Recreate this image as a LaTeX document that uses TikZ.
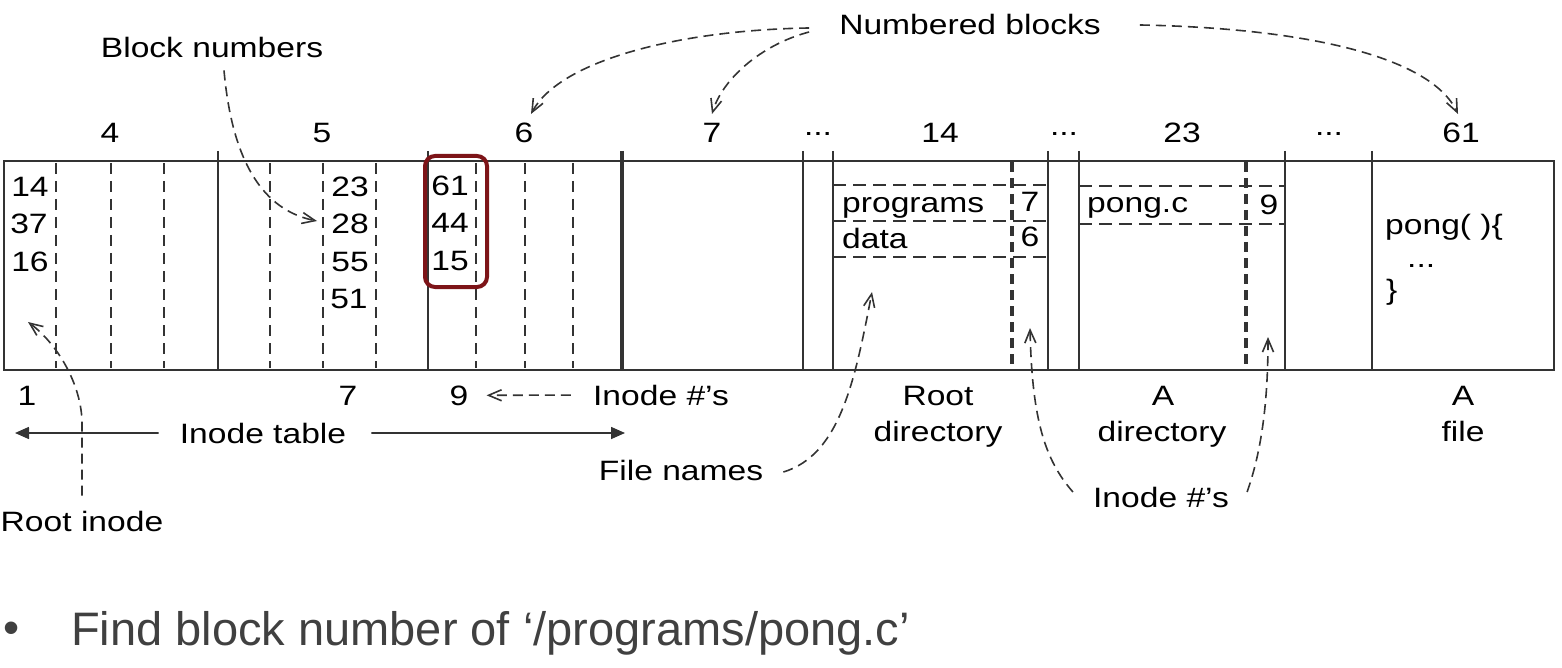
\documentclass[tikz,border=0pt]{standalone}
\usepackage{fontspec}
\setmainfont{Liberation Sans}
\newfontfamily\diag[FakeStretch=1.2]{Liberation Sans}
\usetikzlibrary{arrows.meta}
\definecolor{ink}{HTML}{333333}
\definecolor{maroon}{HTML}{7D1418}
\definecolor{slidegray}{HTML}{404040}

\begin{document}
\begin{tikzpicture}[x=1pt,y=-1pt,
  lbl/.style={font=\diag\fontsize{28}{30}\selectfont, inner sep=0pt, anchor=base},
  lblw/.style={lbl, anchor=base west},
  frame/.style={draw=ink, line width=2pt},
  heavy/.style={draw=ink, line width=4pt},
  slot/.style={draw=ink, line width=2.1pt, dash pattern=on 11pt off 7pt},
  heavyslot/.style={draw=ink, line width=3.4pt, dash pattern=on 10pt off 6pt},
  rowline/.style={draw=ink, line width=2pt, dash pattern=on 13pt off 7pt},
  pointer/.style={draw=ink, line width=1.6pt, dash pattern=on 10pt off 6pt,
    -{Straight Barb[length=13pt,width=11pt]}},
  span/.style={draw=ink, line width=1.6pt, -{Triangle[length=14pt,width=12pt]}}
]
\useasboundingbox (0,0) rectangle (1562,668);

% ---- disk strip ----
\draw[frame] (4,161) rectangle (1554,370);
\foreach \x in {218,428,803,833,1048,1079,1285,1372}
  \draw[frame] (\x,151) -- (\x,370);
\draw[heavy] (622,151) -- (622,370);
% inode slots inside blocks 4, 5 and 6
\foreach \x in {56,111,164,270,323,376,476,525,573}
  \draw[slot] (\x,163) -- (\x,368);
% directory entry columns
\draw[heavyslot] (1012,162) -- (1012,369);
\draw[heavyslot] (1246,162) -- (1246,369);
\foreach \y in {185,221,257}
  \draw[rowline] (833,\y) -- (1048,\y);
\foreach \y in {186,224}
  \draw[rowline] (1079,\y) -- (1285,\y);

% ---- block numbers above the strip ----
\node[lbl] (b4)  at (110,143) {4};
\node[lbl] (b5)  at (322,143) {5};
\node[lbl] (b6)  at (524,143) {6};
\node[lbl] (b7)  at (712,143) {7};
\node[lbl] (g1)  at (818,143) {\raisebox{0.28em}{...}};
\node[lbl] (b14) at (940,143) {14};
\node[lbl] (g2)  at (1064,143) {\raisebox{0.28em}{...}};
\node[lbl] (b23) at (1182,143) {23};
\node[lbl] (g3)  at (1329,143) {\raisebox{0.28em}{...}};
\node[lbl] (b61) at (1461,143) {61};

% ---- inode contents ----
\node[lbl] (i1a) at (30,197) {14};
\node[lbl] (i1b) at (29,234) {37};
\node[lbl] (i1c) at (30,271) {16};
\node[lbl] (i7a) at (350,197) {23};
\node[lbl] (i7b) at (350,234) {28};
\node[lbl] (i7c) at (350,271) {55};
\node[lbl] (i7d) at (349,308) {51};
\node[lbl] (i9a) at (450,196) {61};
\node[lbl] (i9b) at (450,233) {44};
\node[lbl] (i9c) at (450,270) {15};
\draw[maroon, line width=4pt, rounded corners=10pt] (425,156) rectangle (487,287);

% ---- directory entries ----
\node[lblw] (e1) at (842,213) {programs};
\node[lblw] (e2) at (842,249) {data};
\node[lbl]  (e1n) at (1030,212) {7};
\node[lbl]  (e2n) at (1030,247) {6};
\node[lblw] (e3) at (1087,213) {pong.c};
\node[lbl]  (e3n) at (1269,215) {9};

% ---- file contents ----
\node[lblw] (f1) at (1385,235) {pong( )\{};
\node[lblw] (f2) at (1407,267) {...};
\node[lblw] (f3) at (1386,299) {\}};

% ---- labels below the strip ----
\node[lbl] (n1) at (27,405) {1};
\node[lbl] (n7) at (348,405) {7};
\node[lbl] (n9) at (459,405) {9};
\node[lbl] (inum) at (661,405) {Inode \#’s};
\node[lbl] (rd1) at (938,405) {Root};
\node[lbl] (rd2) at (938,441) {directory};
\node[lbl] (ad1) at (1163,405) {A};
\node[lbl] (ad2) at (1162,441) {directory};
\node[lbl] (af1) at (1463,405) {A};
\node[lbl] (af2) at (1463,441) {file};
\node[lbl] (itab) at (263,443) {Inode table};
\node[lbl] (fnames) at (681,480) {File names};
\node[lbl] (inum2) at (1161,507) {Inode \#’s};
\node[lbl] (rinode) at (82,531) {Root inode};

% ---- labels above the strip ----
\node[lbl] (bnum) at (212,58) {Block numbers};
\node[lbl] (nblk) at (970,35) {Numbered blocks};

% ---- arrow end points ----
\coordinate (tabL) at (15,433);
\coordinate (tabR) at (625,433);
\coordinate (slot1) at (28,322);
\coordinate (slot7) at (317,221);
\coordinate (nameTip) at (872,292);
\coordinate (rdTip) at (1030,328);
\coordinate (adTip) at (1268,337);
\coordinate (b6Tip) at (531,114);
\coordinate (b7Tip) at (712,114);
\coordinate (b61Tip) at (1458,114);

% ---- connectors ----
\draw[pointer] (bnum.south) ++(12pt,-12pt) .. controls (232,160) and (262,210) .. (slot7);
\draw[pointer] ([xshift=-30pt,yshift=-3pt]nblk.west) .. controls (680,30) and (560,60) .. (b6Tip);
\draw[pointer] ([xshift=-30pt,yshift=-7pt]nblk.west) .. controls (760,45) and (722,80) .. (b7Tip);
\draw[pointer] ([xshift=39pt]nblk.east) .. controls (1300,28) and (1430,55) .. (b61Tip);
\draw[pointer] ([yshift=15pt]rinode.north) -- (82,420) .. controls (80,380) and (55,342) .. (slot1);
\draw[pointer, shorten <=22pt, shorten >=18pt] (inum.west) -- (n9.east);
\draw[span] ([xshift=-21pt]itab.west) -- (tabL);
\draw[span] ([xshift=25pt]itab.east) -- (tabR);
\draw[pointer] ([xshift=20pt,yshift=-2pt]fnames.east) .. controls (840,455) and (855,380) .. (nameTip);
\draw[pointer] ([xshift=-20pt,yshift=5pt]inum2.west) .. controls (1045,460) and (1032,420) .. (rdTip);
\draw[pointer] ([xshift=18pt,yshift=5pt]inum2.east) .. controls (1262,450) and (1268,400) .. (adTip);

% ---- question ----
\node[font=\fontsize{46}{48}\selectfont, text=slidegray, inner sep=0pt, anchor=base] (dot) at (12,643) {•};
\node[font=\fontsize{47}{50}\selectfont, text=slidegray, inner sep=0pt, anchor=base west] (ask) at (71,645) {Find block number of ‘/programs/pong.c’};
\end{tikzpicture}
\end{document}
